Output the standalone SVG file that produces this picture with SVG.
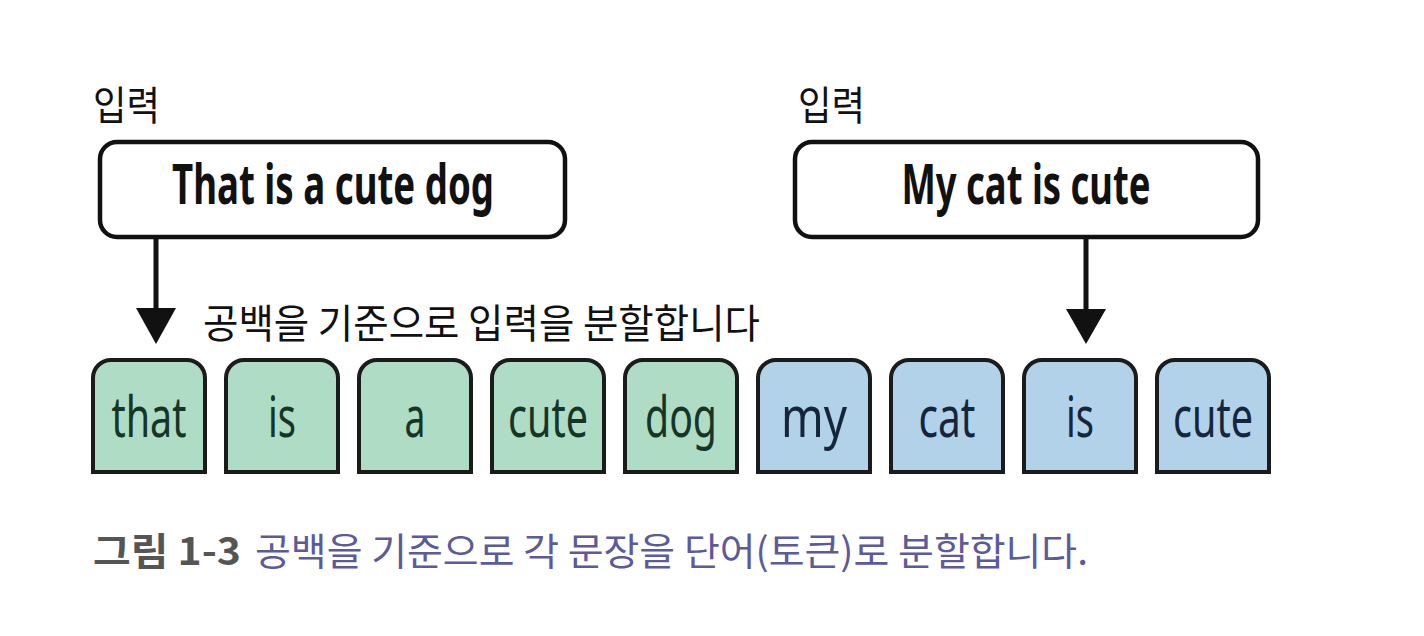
<svg xmlns="http://www.w3.org/2000/svg" width="1424" height="636" viewBox="0 0 1424 636">
<defs>
<style>
.lbl{font-family:"Noto Sans CJK KR","Noto Sans",sans-serif;font-size:40px;fill:#111;}
.box{fill:#fff;stroke:#111;stroke-width:4.5;}
.title{font-family:"Noto Sans","Liberation Sans",sans-serif;font-weight:bold;font-size:56px;fill:#111;text-anchor:middle;}
.tokg{fill:#aedcc5;stroke:#1b1b1b;stroke-width:4;}
.tokb{fill:#b2d2ea;stroke:#1b1b1b;stroke-width:4;}
.tt{font-family:"Noto Sans","Liberation Sans",sans-serif;font-size:56px;text-anchor:middle;}
.tg{fill:#173527;}
.tb{fill:#16263a;}
.conn line{stroke:#111;stroke-width:5;}
.conn polygon{fill:#111;}
.cap{font-family:"Noto Sans CJK KR","Noto Sans",sans-serif;font-size:38px;}
</style>
</defs>
<rect width="1424" height="636" fill="#fff"/>

<g id="input1">
<text class="lbl" x="93" y="120" textLength="67" lengthAdjust="spacingAndGlyphs">입력</text>
<rect class="box" x="100" y="142" width="465" height="95" rx="17"/>
<text class="title" x="333" y="204" textLength="322" lengthAdjust="spacingAndGlyphs">That is a cute dog</text>
</g>

<g id="input2">
<text class="lbl" x="798" y="120" textLength="67" lengthAdjust="spacingAndGlyphs">입력</text>
<rect class="box" x="795" y="142" width="463" height="95" rx="17"/>
<text class="title" x="1026" y="204" textLength="249" lengthAdjust="spacingAndGlyphs">My cat is cute</text>
</g>

<g id="split-label">
<text class="lbl" x="203" y="338" textLength="557" lengthAdjust="spacingAndGlyphs">공백을 기준으로 입력을 분할합니다</text>
</g>

<g id="connectors" class="conn">
<line x1="156" y1="237" x2="156" y2="312"/>
<polygon points="136,308 176,308 156,344"/>
<line x1="1086" y1="237" x2="1086" y2="312"/>
<polygon points="1066,309 1106,309 1086,344"/>
</g>

<g id="tok-that">
<path class="tokg" d="M93,472 V378 A18,18 0 0 1 111,360 H187 A18,18 0 0 1 205,378 V472 Z"/>
<text class="tt tg" x="149" y="437" textLength="75" lengthAdjust="spacingAndGlyphs">that</text>
</g>
<g id="tok-is1">
<path class="tokg" d="M226,472 V378 A18,18 0 0 1 244,360 H320 A18,18 0 0 1 338,378 V472 Z"/>
<text class="tt tg" x="282" y="437" textLength="28" lengthAdjust="spacingAndGlyphs">is</text>
</g>
<g id="tok-a">
<path class="tokg" d="M359,472 V378 A18,18 0 0 1 377,360 H453 A18,18 0 0 1 471,378 V472 Z"/>
<text class="tt tg" x="415" y="437" textLength="21" lengthAdjust="spacingAndGlyphs">a</text>
</g>
<g id="tok-cute1">
<path class="tokg" d="M492,472 V378 A18,18 0 0 1 510,360 H586 A18,18 0 0 1 604,378 V472 Z"/>
<text class="tt tg" x="548" y="437" textLength="80" lengthAdjust="spacingAndGlyphs">cute</text>
</g>
<g id="tok-dog">
<path class="tokg" d="M625,472 V378 A18,18 0 0 1 643,360 H719 A18,18 0 0 1 737,378 V472 Z"/>
<text class="tt tg" x="681" y="437" textLength="72" lengthAdjust="spacingAndGlyphs">dog</text>
</g>
<g id="tok-my">
<path class="tokb" d="M758,472 V378 A18,18 0 0 1 776,360 H852 A18,18 0 0 1 870,378 V472 Z"/>
<text class="tt tb" x="814" y="437" textLength="66" lengthAdjust="spacingAndGlyphs">my</text>
</g>
<g id="tok-cat">
<path class="tokb" d="M891,472 V378 A18,18 0 0 1 909,360 H985 A18,18 0 0 1 1003,378 V472 Z"/>
<text class="tt tb" x="947" y="437" textLength="57" lengthAdjust="spacingAndGlyphs">cat</text>
</g>
<g id="tok-is2">
<path class="tokb" d="M1024,472 V378 A18,18 0 0 1 1042,360 H1118 A18,18 0 0 1 1136,378 V472 Z"/>
<text class="tt tb" x="1080" y="437" textLength="28" lengthAdjust="spacingAndGlyphs">is</text>
</g>
<g id="tok-cute2">
<path class="tokb" d="M1157,472 V378 A18,18 0 0 1 1175,360 H1251 A18,18 0 0 1 1269,378 V472 Z"/>
<text class="tt tb" x="1213" y="437" textLength="80" lengthAdjust="spacingAndGlyphs">cute</text>
</g>

<g id="caption">
<text class="cap" x="93" y="565" font-weight="bold" fill="#555" textLength="148" lengthAdjust="spacingAndGlyphs">그림 1-3</text>
<text class="cap" x="255" y="565" fill="#5d5a9c" textLength="833" lengthAdjust="spacingAndGlyphs">공백을 기준으로 각 문장을 단어(토큰)로 분할합니다.</text>
</g>
</svg>
